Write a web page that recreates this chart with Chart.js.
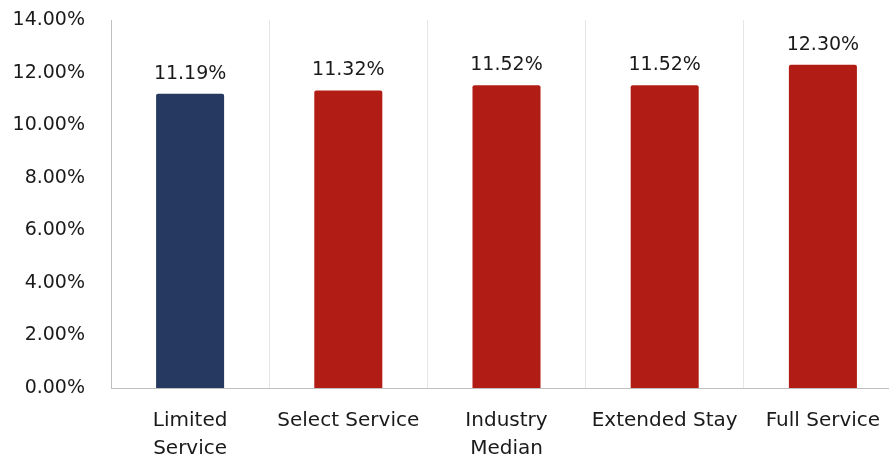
<!DOCTYPE html>
<html>
<head>
<meta charset="utf-8">
<script src="https://cdn.jsdelivr.net/npm/chart.js@4/dist/chart.umd.min.js"></script>
<style>
  html, body { margin: 0; padding: 0; background: #fff; overflow: hidden; }
  #wrap { width: 889px; height: 457px; overflow: hidden; }
</style>
</head>
<body>
<div id="wrap"><canvas id="c" width="905" height="457"></canvas></div>
<script>
const categories = [["Limited", "Service"], "Select Service", ["Industry", "Median"], "Extended Stay", "Full Service"];
const rates = [11.19, 11.32, 11.52, 11.52, 12.30];
const barColors = ["#263961", "#b11d14", "#b11d14", "#b11d14", "#b11d14"];
const yTicks = [0, 2, 4, 6, 8, 10, 12, 14];

const FONT = "'DejaVu Sans', sans-serif";

// value labels above bars
const valueLabels = {
    id: "valueLabels",
    afterDatasetsDraw(chart) {
        const ctx = chart.ctx;
        const meta = chart.getDatasetMeta(0);
        ctx.save();
        ctx.font = "19px " + FONT;
        ctx.fillStyle = "#1a1a1a";
        ctx.textAlign = "center";
        ctx.textBaseline = "middle";
        meta.data.forEach(function (bar, i) {
            ctx.fillText(rates[i].toFixed(2) + "%", bar.x, bar.y - 20);
        });
        ctx.restore();
    }
};

new Chart(document.getElementById("c"), {
    type: "bar",
    data: {
        labels: categories,
        datasets: [{
            data: rates,
            backgroundColor: barColors,
            borderRadius: { topLeft: 2, topRight: 2 },
            borderSkipped: "bottom",
            categoryPercentage: 1,
            barPercentage: 0.43
        }]
    },
    options: {
        responsive: false,
        devicePixelRatio: 1,
        animation: false,
        layout: { padding: { top: 20, right: 3, left: 0, bottom: 0 } },
        plugins: {
            legend: { display: false },
            tooltip: { enabled: false }
        },
        scales: {
            x: {
                grid: { display: true, color: "#e6e6e6", drawTicks: false, offset: true },
                border: { display: true, color: "#bfbfbf" },
                ticks: {
                    color: "#1a1a1a",
                    font: { family: FONT, size: 20, lineHeight: 1.4 },
                    padding: 19,
                    maxRotation: 0,
                    autoSkip: false
                },
                afterFit(scale) { scale.height = 69; }
            },
            y: {
                min: 0,
                max: 14,
                afterBuildTicks(scale) { scale.ticks = yTicks.map(v => ({ value: v })); },
                grid: { display: false },
                border: { display: true, color: "#bfbfbf" },
                ticks: {
                    color: "#1a1a1a",
                    font: { family: FONT, size: 19 },
                    padding: 18,
                    callback: v => v.toFixed(2) + "%"
                },
                afterFit(scale) {
                    scale.width = 111;
                    scale.paddingTop = 0;
                    scale.paddingBottom = 0;
                }
            }
        }
    },
    plugins: [valueLabels]
});
</script>
</body>
</html>
